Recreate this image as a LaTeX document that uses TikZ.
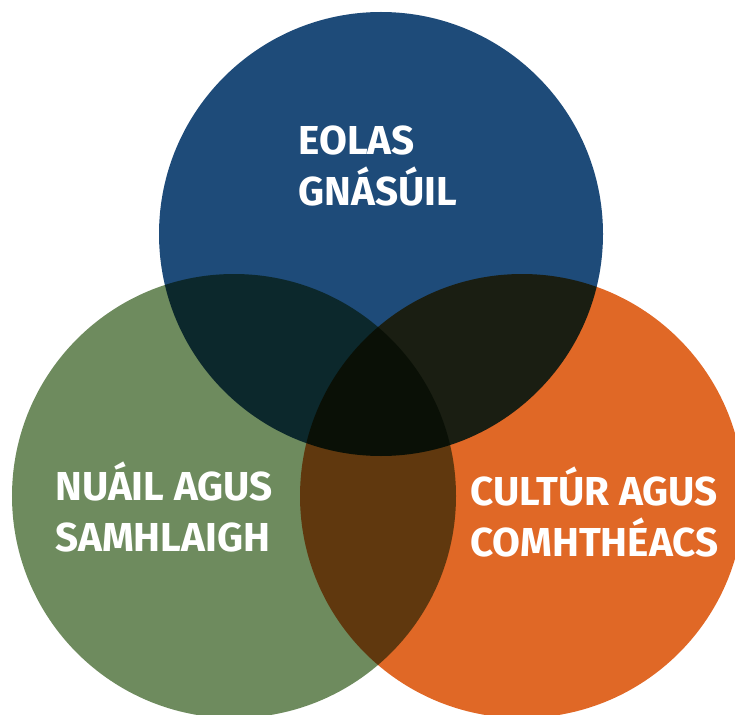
\documentclass[tikz,border=0pt]{standalone}
\usepackage{fontspec}
\setmainfont{Fira Sans}
\definecolor{eolasblue}{RGB}{30,75,121}
\definecolor{nuailgreen}{RGB}{110,139,94}
\definecolor{culturorange}{RGB}{224,104,38}
\tikzset{
  ring/.style={blend mode=multiply},
  lbl/.style={anchor=base west, align=left, inner sep=0pt, text=white,
    font=\bfseries\fontsize{23}{28.5}\selectfont}
}
\begin{document}
\begin{tikzpicture}[line cap=round,line join=round]
      \path[use as bounding box] (0,0) rectangle (14.7,14.28);

      \fill[ring, eolasblue] (7.62,9.6) circle (4.44);
      \fill[ring, nuailgreen] (4.68,4.36) circle (4.44);
      \fill[ring, culturorange] (10.44,4.36) circle (4.44);

      % anchors sit on the baseline of the second line
      \node[lbl] (eolas) at (5.96,10.18) {EOLAS\\GNÁSÚIL};
      \node[lbl] (nuail) at (1.1,3.26) {NUÁIL AGUS\\SAMHLAIGH};
      \node[lbl] (cultur) at (9.4,3.16) {CULTÚR AGUS\\COMHTHÉACS};

    \end{tikzpicture}
\end{document}
